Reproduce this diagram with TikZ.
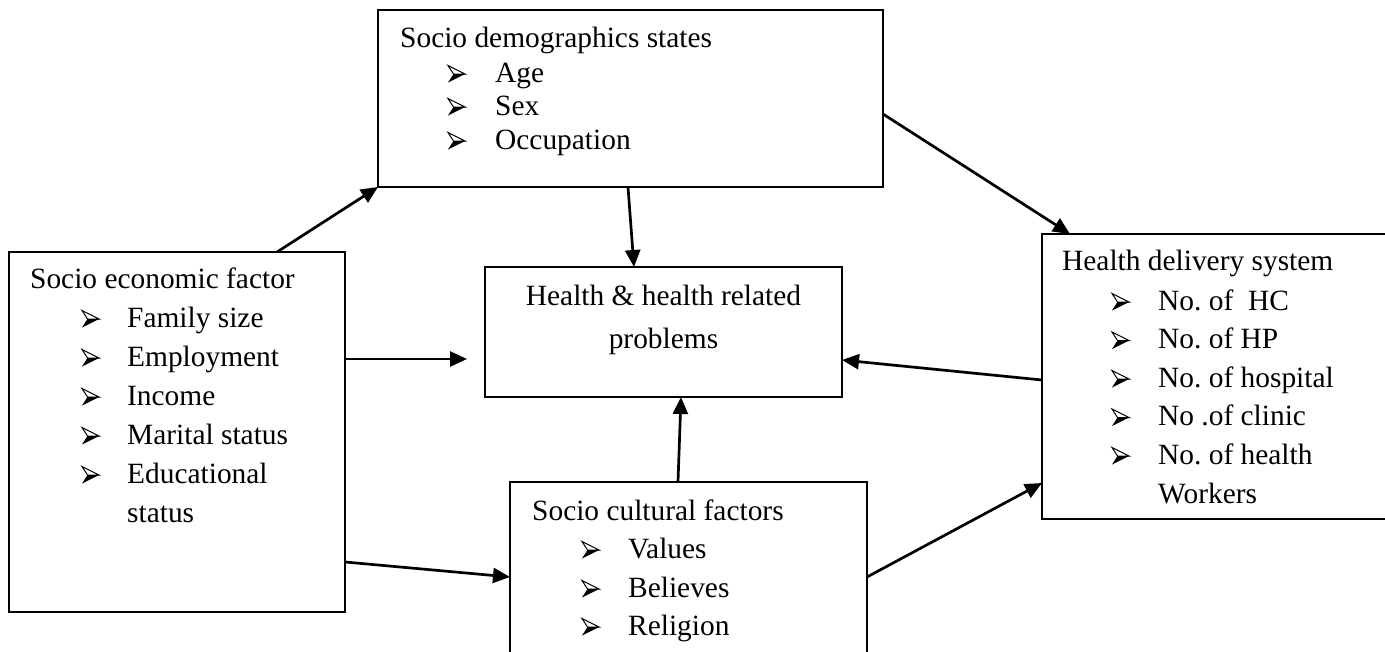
\documentclass[tikz,border=0pt]{standalone}
\usepackage{fontspec}
\setmainfont{Liberation Serif}
\usetikzlibrary{arrows.meta,calc}
\frenchspacing
\begin{document}
\begin{tikzpicture}[x=1pt,y=-1pt,
  box/.style={draw, line width=2.2pt, rectangle, inner sep=0pt, outer sep=0pt, anchor=north west},
  arr/.style={-{Triangle[length=17pt,width=15pt]}, line width=2.7pt},
  txt/.style={anchor=base west, inner sep=0pt, font=\fontsize{29.4}{35}\selectfont},
  ctxt/.style={anchor=base, inner sep=0pt, font=\fontsize{29.4}{35}\selectfont},
  pics/bul/.style={code={
    \draw[line width=1pt, line join=miter] (0,-16.5) -- (17,-8) -- (5.5,-8) -- cycle;
    \fill (0,0.5) -- (17,-8) -- (5.5,-8) -- cycle;
  }}]
\useasboundingbox (0,0) rectangle (1385,651);
\clip (0,0) rectangle (1385,651);
\fill[white] (0,0) rectangle (1385,651);

% boxes
\node[box, minimum width=505pt, minimum height=177pt] (sd) at (378,10) {};
\node[box, minimum width=336pt, minimum height=360pt] (se) at (9,252) {};
\node[box, minimum width=357pt, minimum height=130pt] (hh) at (485,267) {};
\node[box, minimum width=357pt, minimum height=240pt] (sc) at (510,482) {};
\node[box, minimum width=350pt, minimum height=285pt] (hd) at (1042,234) {};

% top box text
\node[txt] (sd0) at (400,47) {Socio demographics states};
\pic at (448,82) {bul}; \node[txt] (sd1) at (495,82) {Age};
\pic at (448,115) {bul}; \node[txt] (sd2) at (495,115) {Sex};
\pic at (448,149) {bul}; \node[txt] (sd3) at (495,149) {Occupation};

% left box text
\node[txt] (se0) at (30,288) {Socio economic factor};
\pic at (82,327) {bul}; \node[txt] (se1) at (127,327) {Family size};
\pic at (82,366) {bul}; \node[txt] (se2) at (127,366) {Employment};
\pic at (82,405) {bul}; \node[txt] (se3) at (127,405) {Income};
\pic at (82,444) {bul}; \node[txt] (se4) at (127,444) {Marital status};
\pic at (82,483) {bul}; \node[txt] (se5) at (127,483) {Educational};
\node[txt] (se6) at (127,522) {status};

% centre box text
\node[ctxt] (hh0) at (663.5,305) {Health \& health related};
\node[ctxt] (hh1) at (663.5,348) {problems};

% bottom box text
\node[txt] (sc0) at (532,520) {Socio cultural factors};
\pic at (582,558) {bul}; \node[txt] (sc1) at (628,558) {Values};
\pic at (582,597) {bul}; \node[txt] (sc2) at (628,597) {Believes};
\pic at (582,635) {bul}; \node[txt] (sc3) at (628,635) {Religion};

% right box text
\node[txt] (hd0) at (1062,270) {Health delivery system};
\pic at (1112,310) {bul}; \node[txt] (hd1) at (1158,310) {No. of\ \ HC};
\pic at (1112,348.5) {bul}; \node[txt] (hd2) at (1158,348.5) {No. of HP};
\pic at (1112,387) {bul}; \node[txt] (hd3) at (1158,387) {No. of hospital};
\pic at (1112,425.5) {bul}; \node[txt] (hd4) at (1158,425.5) {No .of clinic};
\pic at (1112,464) {bul}; \node[txt] (hd5) at (1158,464) {No. of health};
\node[txt] (hd6) at (1158,503) {Workers};

% connectors
\draw[arr] ($(se.north west)+(268,0)$) -- (sd.south west);
\draw[arr] ($(sd.south west)+(250,0)$) -- ($(hh.north west)+(149,0)$);
\draw[arr] ($(sd.north east)+(0,104)$) -- ($(hd.north west)+(28,0)$);
\draw[arr] ($(se.north east)+(0,107)$) -- ($(hh.north west)+(-18,92)$);
\draw[arr] ($(hd.north west)+(0,146)$) -- ($(hh.north east)+(0,93)$);
\draw[arr] ($(sc.north west)+(168,0)$) -- ($(hh.south west)+(196,0)$);
\draw[arr] ($(se.north east)+(0,310)$) -- ($(sc.north west)+(0,95)$);
\draw[arr] ($(sc.north east)+(0,95)$) -- ($(hd.north west)+(0,249)$);
\end{tikzpicture}
\end{document}
